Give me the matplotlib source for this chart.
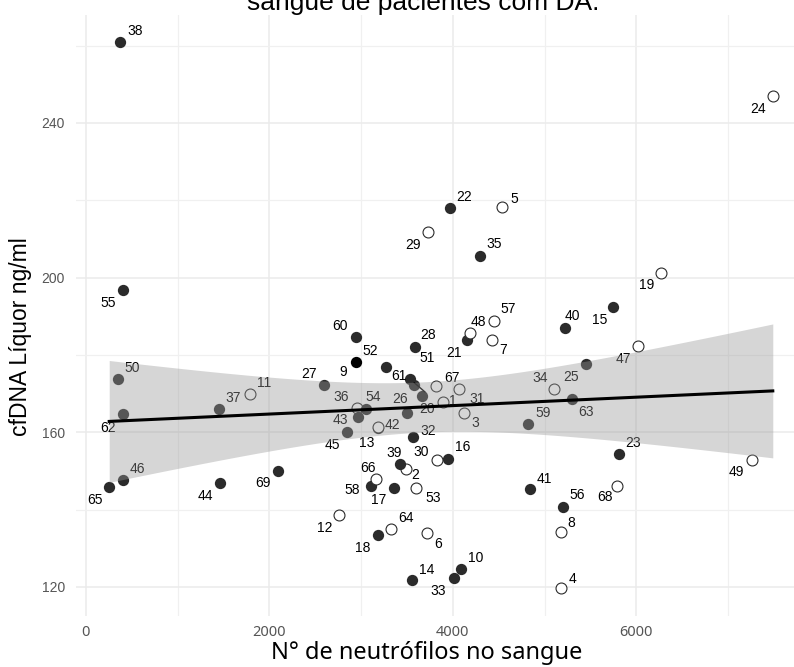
import numpy as np
import matplotlib
matplotlib.use("Agg")
import matplotlib.pyplot as plt

# Pacientes 1..69: neutrófilos no sangue x cfDNA no líquor
paciente = list(range(1, 70))
neutrofilos = [
    3895, 3485, 4123, 5181, 4538, 3714, 4422, 5174, 2940, 4084,
    1788, 2761, 3180, 3550, 5748, 3942, 3360, 3183, 6264, 3659,
    4150, 3968, 5810, 7488, 5447, 3496, 2594, 3586, 3725, 3823,
    4069, 3568, 4008, 5104, 4295, 2951, 1450, 374, 3423, 5224,
    4843, 3180, 2962, 1461, 2842, 400, 6024, 4186, 7259, 352,
    3532, 3270, 3594, 3049, 407, 5203, 4447, 3107, 4818, 2940,
    3578, 407, 5301, 3325, 254, 3158, 3815, 5791, 2096,
]
cfdna = [
    167.8, 150.5, 164.9, 119.7, 218.2, 133.9, 183.9, 134.2, 178.1, 124.7,
    169.9, 138.6, 161.2, 121.8, 192.3, 153.1, 145.5, 133.4, 201.1, 169.5,
    183.9, 217.9, 154.3, 246.9, 177.7, 164.9, 172.2, 182.1, 211.7, 152.8,
    171.1, 158.9, 122.2, 171.1, 205.6, 166.2, 166.0, 260.8, 151.7, 187.0,
    145.3, 161.3, 164.0, 147.0, 160.2, 147.7, 182.2, 185.6, 152.8, 173.8,
    173.8, 177.0, 145.5, 165.9, 196.8, 140.8, 188.8, 146.1, 162.1, 184.7,
    172.2, 164.7, 168.6, 134.9, 145.9, 147.9, 172.0, 146.0, 150.0,
]
# grupo do marcador: "aberto" = círculo vazio, "cheio" = círculo preenchido
abertos = {1, 2, 3, 4, 5, 6, 7, 8, 11, 12, 19, 24, 29, 30, 31, 34, 36, 42,
           47, 48, 49, 53, 57, 64, 66, 67, 68}
grupo = ["aberto" if p in abertos else "cheio" for p in paciente]

# deslocamento dos rótulos (pixels, x para a direita, y para baixo)
desloc = {
    1: (10, -1), 2: (10, 6), 3: (11, 10), 4: (11, -9), 5: (12, -8),
    6: (12, 11), 7: (12, 10), 8: (11, -9), 9: (-12, 10), 10: (15, -11),
    11: (14, -11), 12: (-14, 13), 13: (-11, 15), 14: (15, -10), 15: (-13, 13),
    16: (15, -12), 17: (-15, 12), 18: (-15, 13), 19: (-14, 12), 20: (6, 13),
    21: (-13, 13), 22: (14, -11), 23: (14, -11), 24: (-15, 13), 25: (-15, 13),
    26: (-7, -14), 27: (-15, -11), 28: (13, -12), 29: (-15, 13), 30: (-15, -8),
    31: (18, 10), 32: (15, -6), 33: (-15, 13), 34: (-14, -11), 35: (14, -12),
    36: (-15, -11), 37: (14, -11), 38: (15, -11), 39: (-6, -11), 40: (7, -12),
    41: (14, -10), 42: (15, -2), 43: (-17, 3), 44: (-15, 13), 45: (-14, 13),
    46: (15, -11), 47: (-15, 13), 48: (8, -11), 49: (-15, 12), 50: (14, -11),
    51: (17, -21), 52: (-16, -16), 53: (18, 10), 54: (8, -12), 55: (-15, 13),
    56: (14, -12), 57: (14, -12), 58: (-19, 4), 59: (15, -11), 60: (-16, -11),
    61: (-15, -9), 62: (-15, 14), 63: (14, 13), 64: (15, -11), 65: (-14, 13),
    66: (-8, -11), 67: (16, -8), 68: (-12, 11), 69: (-15, 12),
}

W, H = 794, 667
fig = plt.figure(figsize=(W / 100, H / 100), dpi=100)
# painel em pixels: esquerda 76, direita 806 (cortado), topo 15, base 615.6
ax = fig.add_axes([76 / W, 1 - 615.6 / H, (806 - 76) / W, (615.6 - 15) / H])

x = np.array(neutrofilos, dtype=float)
y = np.array(cfdna, dtype=float)

ponto = "#2b2b2b"
for p, xi, yi, g in zip(paciente, x, y, grupo):
    if g == "aberto":
        ax.scatter(xi, yi, s=62, facecolor="white", edgecolor=ponto,
                   linewidth=0.8, zorder=3)
    else:
        cor = "black" if p == 9 else ponto
        ax.scatter(xi, yi, s=66, color=cor, linewidth=0, zorder=3)
    dx, dy = desloc[p]
    ax.annotate(str(p), (xi, yi), xytext=(dx, -dy), textcoords="offset pixels",
                ha="center", va="center", fontsize=10,
                family="Liberation Sans", color="black", zorder=3)

# segmento do rótulo 51
i51 = paciente.index(51)
ax.annotate("", (x[i51], y[i51]), xytext=(15, -13), textcoords="offset pixels",
            arrowprops=dict(arrowstyle="-", color="black", lw=1.0,
                            shrinkA=0, shrinkB=4), zorder=3)

# regressão linear com IC 95%
b1, b0 = np.polyfit(x, y, 1)
xs = np.linspace(x.min(), x.max(), 100)
n = len(x)
res = y - (b0 + b1 * x)
s = np.sqrt(np.sum(res ** 2) / (n - 2))
sxx = np.sum((x - x.mean()) ** 2)
se = s * np.sqrt(1 / n + (xs - x.mean()) ** 2 / sxx)
t = 1.996
fit = b0 + b1 * xs
ax.fill_between(xs, fit - t * se, fit + t * se, color="#999999", alpha=0.4,
                linewidth=0, zorder=4)
ax.plot(xs, fit, color="black", lw=2.2, zorder=5)

ax.set_xlim(-108, 7850)
ax.set_ylim(112.6, 267.9)
ax.set_xticks([0, 2000, 4000, 6000])
ax.set_xticks([1000, 3000, 5000, 7000], minor=True)
ax.set_yticks([120, 160, 200, 240])
ax.set_yticks([140, 180, 220, 260], minor=True)
ax.grid(True, which="major", color="#ebebeb", lw=1.1)
ax.grid(True, which="minor", color="#f0f0f0", lw=0.9)
ax.set_axisbelow(True)
for sp in ax.spines.values():
    sp.set_visible(False)
ax.tick_params(which="both", length=0)
ax.tick_params(axis="x", pad=7, labelsize=10.5, labelcolor="#555555")
ax.tick_params(axis="y", pad=8, labelsize=10, labelcolor="#555555")
for lb in ax.get_xticklabels():
    lb.set_family("Noto Sans")
for lb in ax.get_yticklabels():
    lb.set_family("Liberation Sans")

fig.text(427 / W, 1 - 653 / H, "N° de neutrófilos no sangue", ha="center",
         va="center", fontsize=17, family="Noto Sans")
fig.text(21 / W, 1 - 337 / H, "cfDNA Líquor ng/ml", ha="center", va="center",
         rotation=90, fontsize=16.5, family="Liberation Sans")
fig.text(423 / W, 1 - 10 / H, "sangue de pacientes com DA.", ha="center",
         va="baseline", fontsize=19, family="Liberation Sans")

fig.savefig("out.png", dpi=100)
